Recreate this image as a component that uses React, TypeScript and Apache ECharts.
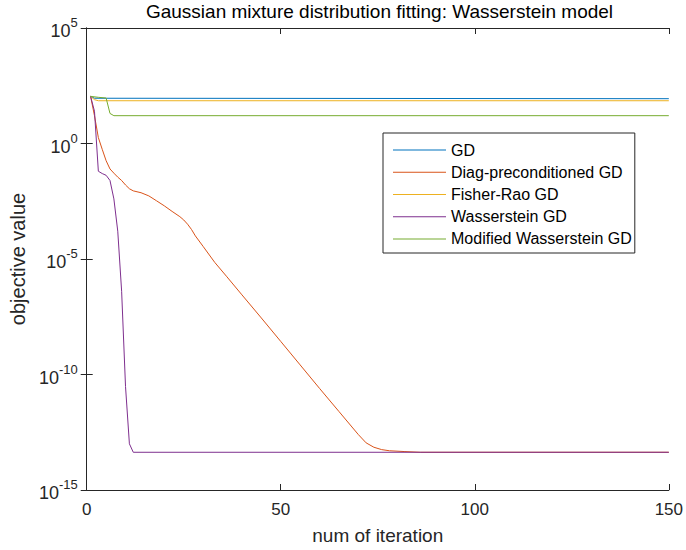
import React, { useEffect, useRef } from "react";
import * as echarts from "echarts";

const seriesNames = [
  "GD",
  "Diag-preconditioned GD",
  "Fisher-Rao GD",
  "Wasserstein GD",
  "Modified Wasserstein GD",
];
const seriesColors = ["#0072BD", "#D95319", "#EDB120", "#7E2F8E", "#77AC30"];

const gdIter = [1, 2, 150];
const gdValues = [110, 91, 87];

const diagIter = [1, 2, 3, 4, 5, 6, 7, 8, 9, 10, 11, 12, 14, 16, 18, 20, 22, 24, 25, 26, 27, 28, 30, 33, 36, 40, 45, 50, 55, 60, 65, 70, 72, 74, 76, 78, 82, 86, 150];
const diagValues = [110, 16, 1.8, 0.56, 0.18, 0.079, 0.052, 0.035, 0.025, 0.016, 0.011, 0.0089, 0.0074, 0.0054, 0.0033, 0.002, 0.00115, 6.8e-4, 4.9e-4, 3.2e-4, 1.9e-4, 1.0e-4, 3.5e-5, 7.1e-6, 1.8e-6, 2.8e-7, 2.8e-8, 2.7e-9, 2.6e-10, 2.5e-11, 2.5e-12, 2.5e-13, 1.1e-13, 7.1e-14, 5.6e-14, 5e-14, 4.6e-14, 4.3e-14, 4.3e-14];

const frIter = [1, 2, 3, 150];
const frValues = [110, 79, 71, 71];

const wIter = [1, 2, 3, 4, 5, 6, 7, 8, 9, 10, 11, 12, 150];
const wValues = [110, 25, 0.063, 0.05, 0.042, 0.025, 0.004, 1.6e-4, 4e-7, 3e-11, 1e-13, 4.3e-14, 4.3e-14];

const mwIter = [1, 3, 5, 6, 7, 150];
const mwValues = [110, 100, 93, 20, 16, 16];

const xTicks = [0, 50, 100, 150];

const FONT = "Liberation Sans, Arial, Helvetica, sans-serif";
const AXIS_COLOR = "#262626";

function zip(xs: number[], ys: number[]) {
  return xs.map((x, i) => [x, ys[i]]);
}

export default function App() {
  const ref = useRef<HTMLDivElement>(null);
  useEffect(() => {
    document.body.style.margin = "0";
    const chart = echarts.init(ref.current!, null, { renderer: "svg" });
    const allData = [
      zip(gdIter, gdValues),
      zip(diagIter, diagValues),
      zip(frIter, frValues),
      zip(wIter, wValues),
      zip(mwIter, mwValues),
    ];
    const gridL = 86, gridT = 28, gridW = 587, gridH = 462;
    const yFormatter = (v: number) => {
      const e = Math.round(Math.log10(v));
      return "{b|10}{s|" + e + "}";
    };
    const yRich = {
      b: { fontSize: 18, fontFamily: FONT, color: AXIS_COLOR, lineHeight: 18, padding: [9, 0, 0, 0], verticalAlign: "bottom" },
      s: { fontSize: 13, fontFamily: FONT, color: AXIS_COLOR, lineHeight: 24, verticalAlign: "top" },
    };
    const xAxisCommon = {
      type: "value",
      min: 0,
      max: 150,
      interval: 50,
      splitLine: { show: false },
      axisLine: { show: true, lineStyle: { color: AXIS_COLOR, width: 1 } },
      axisTick: { show: true, inside: true, length: 6, lineStyle: { color: AXIS_COLOR } },
    };
    const yAxisCommon = {
      type: "log",
      logBase: 10,
      min: 1e-15,
      max: 1e5,
      interval: 5,
      splitLine: { show: false },
      minorTick: { show: false },
      axisLine: { show: true, lineStyle: { color: AXIS_COLOR, width: 1 } },
      axisTick: { show: true, inside: true, length: 6, lineStyle: { color: AXIS_COLOR } },
    };
    chart.setOption({
      animation: false,
      backgroundColor: "#ffffff",
      title: {
        text: "Gaussian mixture distribution fitting: Wasserstein model",
        left: gridL + gridW / 2,
        textAlign: "center",
        top: 2,
        padding: 0,
        textStyle: { fontFamily: FONT, fontSize: 19, fontWeight: "normal", color: "#000000" },
      },
      legend: {
        orient: "vertical",
        left: 383,
        top: 133,
        padding: [6, 3, 3, 10],
        itemGap: 0,
        itemWidth: 53,
        itemHeight: 1,
        icon: "rect",
        borderColor: AXIS_COLOR,
        borderWidth: 1,
        backgroundColor: "#ffffff",
        data: seriesNames,
        textStyle: { fontFamily: FONT, fontSize: 16, color: "#000000", lineHeight: 22.2 },
      },
      grid: { left: gridL, top: gridT, width: gridW, height: gridH },
      xAxis: [
        {
          ...xAxisCommon,
          position: "bottom",
          name: "num of iteration",
          nameLocation: "middle",
          nameGap: 36,
          nameTextStyle: { fontFamily: FONT, fontSize: 19, color: AXIS_COLOR },
          axisLabel: {
            fontFamily: FONT,
            fontSize: 17,
            color: AXIS_COLOR,
            margin: 11,
            formatter: (v: number) => (xTicks.includes(v) ? String(v) : ""),
          },
        },
        { ...xAxisCommon, position: "top", axisLabel: { show: false } },
      ],
      yAxis: [
        {
          ...yAxisCommon,
          position: "left",
          name: "objective value",
          nameLocation: "middle",
          nameGap: 54,
          nameRotate: 90,
          nameTextStyle: { fontFamily: FONT, fontSize: 20, color: AXIS_COLOR },
          axisLabel: { margin: 9, formatter: yFormatter, rich: yRich },
        },
        { ...yAxisCommon, position: "right", axisLabel: { show: false } },
      ],
      series: allData.map((d, i) => ({
        name: seriesNames[i],
        type: "line",
        data: d,
        showSymbol: false,
        symbol: "none",
        color: seriesColors[i],
        lineStyle: { width: 1, color: seriesColors[i] },
        xAxisIndex: 0,
        yAxisIndex: 0,
      })),
    });
    return () => chart.dispose();
  }, []);
  return <div ref={ref} style={{ width: 686, height: 550 }} />;
}
